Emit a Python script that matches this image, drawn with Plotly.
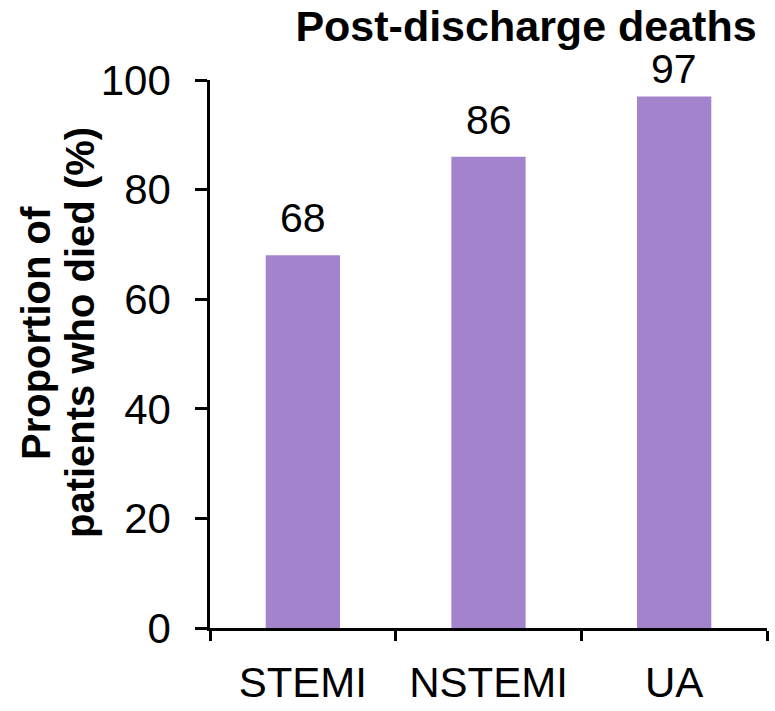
import plotly.graph_objects as go

categories = ["STEMI", "NSTEMI", "UA"]
values = [68, 86, 97]
y_ticks = [0, 20, 40, 60, 80, 100]
title_text = "Post-discharge deaths"
ytitle_lines = ["Proportion of", "patients who died (%)"]

FONT = "Liberation Sans, Arial, sans-serif"
BAR = "#A283CC"
label_shift = [12, 12, 2]

fig = go.Figure()
fig.add_trace(go.Bar(x=categories, y=values, marker=dict(color=BAR, line=dict(width=0)),
                     width=0.4, hoverinfo="skip"))

for c, v, s in zip(categories, values, label_shift):
    fig.add_annotation(x=c, y=v, text=str(v), showarrow=False, yanchor="bottom",
                       yshift=s, font=dict(family=FONT, size=41, color="black"))

W, H = 775, 711
L, R, T, B = 210, 8, 80, 83
pw = W - L - R
ph = H - T - B

def px_x(p):
    return (p - L) / pw

def px_y(p):
    return (H - B - p) / ph

fig.add_annotation(xref="paper", yref="paper", x=px_x(36), y=px_y(333), text=ytitle_lines[0],
                   textangle=-90, showarrow=False, xanchor="center", yanchor="middle",
                   font=dict(family=FONT, size=40, color="black", weight="bold"))
fig.add_annotation(xref="paper", yref="paper", x=px_x(80), y=px_y(333), text=ytitle_lines[1],
                   textangle=-90, showarrow=False, xanchor="center", yanchor="middle",
                   font=dict(family=FONT, size=40, color="black", weight="bold"))

fig.update_layout(
    width=W, height=H,
    margin=dict(l=L, r=R, t=T, b=B, autoexpand=False),
    paper_bgcolor="white", plot_bgcolor="white",
    showlegend=False,
    title=dict(text="<b>" + title_text + "</b>", x=526 / W, xanchor="center",
               y=1 - 26 / H, yanchor="middle", yref="container",
               font=dict(family=FONT, size=43, color="black")),
    font=dict(family=FONT, color="black"),
)
fig.update_xaxes(type="category", tickson="boundaries", ticks="outside", ticklen=10,
                 tickwidth=2.5, tickcolor="black", showline=True, linecolor="black",
                 linewidth=2.5, showgrid=False, zeroline=False, automargin=False,
                 tickfont=dict(family=FONT, size=42, color="black"),
                 ticklabelstandoff=16)
fig.update_yaxes(range=[0, 100], tickvals=y_ticks, ticks="outside", ticklen=12,
                 tickwidth=2.5, tickcolor="black", showline=True, linecolor="black",
                 linewidth=2.5, showgrid=False, zeroline=False, automargin=False,
                 tickfont=dict(family=FONT, size=42, color="black"),
                 ticklabelstandoff=16)

fig.write_html("out.html")
